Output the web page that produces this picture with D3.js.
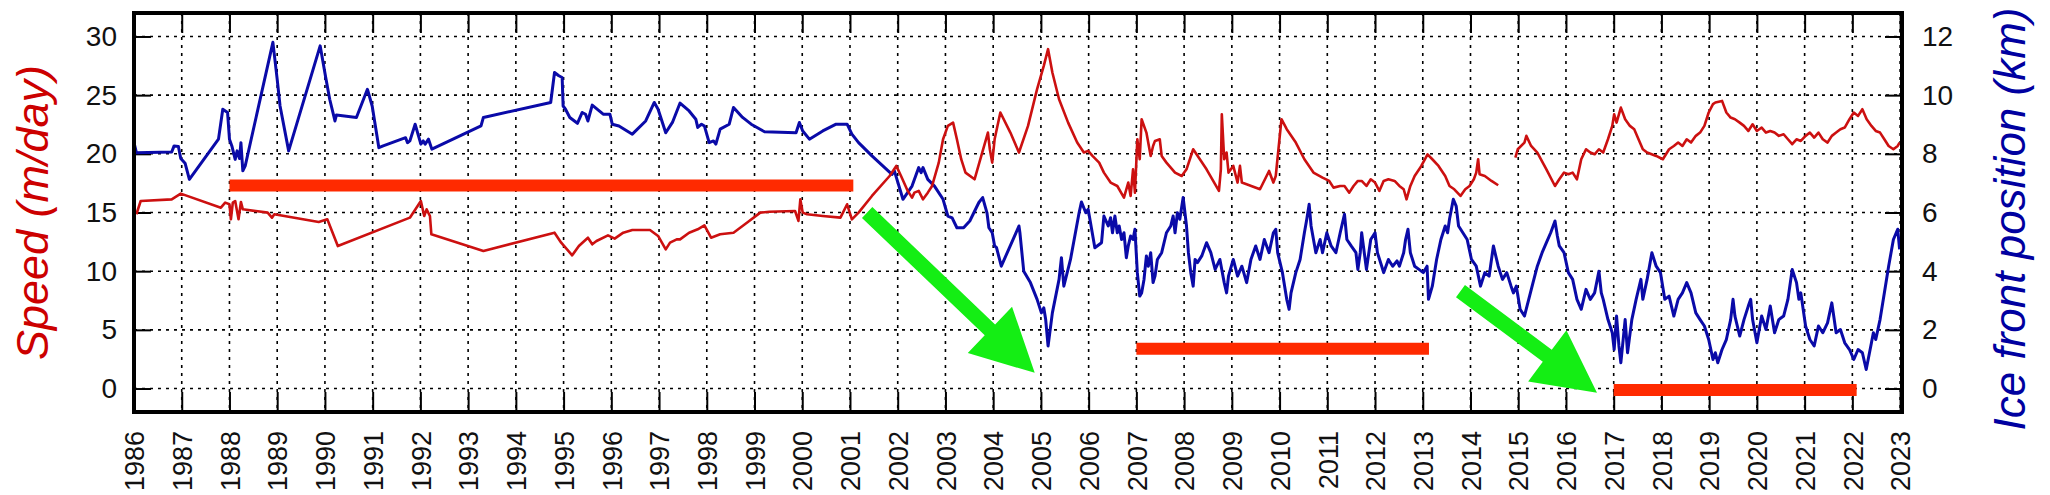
<!DOCTYPE html>
<html>
<head>
<meta charset="utf-8">
<script src="https://cdn.jsdelivr.net/npm/d3@7"></script>
<style>
  body { margin: 0; background: #fff; }
  text { font-family: "Liberation Sans", Arial, Helvetica, sans-serif; }
</style>
</head>
<body>
<div id="chart"></div>
<script>
// ice front position (km), right axis
const iceYear = [
  1986.00, 1986.05, 1986.79, 1986.84, 1986.93, 1986.98, 1987.07, 1987.16, 1987.77, 1987.86,
  1987.96, 1988.00, 1988.05, 1988.12, 1988.16, 1988.21, 1988.24, 1988.28, 1988.33, 1988.91,
  1989.00, 1989.06, 1989.24, 1989.90, 1990.01, 1990.10, 1990.21, 1990.24, 1990.66, 1990.89,
  1990.99, 1991.13, 1991.22, 1991.69, 1991.73, 1991.78, 1991.89, 1991.96, 1992.01, 1992.06,
  1992.10, 1992.17, 1992.24, 1993.27, 1993.32, 1994.73, 1994.81, 1994.90, 1994.97, 1994.99,
  1995.04, 1995.13, 1995.29, 1995.39, 1995.46, 1995.51, 1995.60, 1995.83, 1995.97, 1996.02,
  1996.16, 1996.44, 1996.72, 1996.90, 1996.98, 1997.14, 1997.28, 1997.44, 1997.63, 1997.77,
  1997.81, 1997.89, 1997.95, 1998.05, 1998.14, 1998.19, 1998.28, 1998.47, 1998.56, 1998.75,
  1998.93, 1999.21, 1999.87, 1999.94, 2000.01, 2000.15, 2000.43, 2000.71, 2000.94, 2001.04,
  2001.18, 2001.46, 2001.88, 2001.93, 2002.11, 2002.30, 2002.44, 2002.49, 2002.53, 2002.63,
  2002.77, 2002.95, 2003.05, 2003.14, 2003.24, 2003.38, 2003.51, 2003.70, 2003.78, 2003.87,
  2003.91, 2003.98, 2004.03, 2004.07, 2004.17, 2004.54, 2004.56, 2004.64, 2004.78, 2004.92,
  2005.01, 2005.06, 2005.10, 2005.15, 2005.24, 2005.38, 2005.43, 2005.48, 2005.62, 2005.80,
  2005.85, 2005.94, 2005.99, 2006.13, 2006.27, 2006.32, 2006.41, 2006.46, 2006.50, 2006.55,
  2006.60, 2006.64, 2006.69, 2006.74, 2006.79, 2006.83, 2006.88, 2006.93, 2006.97, 2007.02,
  2007.07, 2007.11, 2007.16, 2007.21, 2007.25, 2007.30, 2007.35, 2007.39, 2007.44, 2007.53,
  2007.63, 2007.72, 2007.77, 2007.81, 2007.86, 2007.91, 2007.98, 2008.05, 2008.09, 2008.14,
  2008.19, 2008.23, 2008.28, 2008.37, 2008.47, 2008.56, 2008.65, 2008.75, 2008.84, 2008.89,
  2008.93, 2009.03, 2009.12, 2009.21, 2009.31, 2009.40, 2009.50, 2009.59, 2009.68, 2009.78,
  2009.87, 2009.92, 2009.96, 2010.06, 2010.15, 2010.20, 2010.24, 2010.34, 2010.43, 2010.52,
  2010.57, 2010.62, 2010.66, 2010.76, 2010.85, 2010.90, 2010.99, 2011.08, 2011.18, 2011.27,
  2011.36, 2011.41, 2011.50, 2011.60, 2011.64, 2011.69, 2011.72, 2011.82, 2011.91, 2012.00,
  2012.05, 2012.14, 2012.18, 2012.28, 2012.37, 2012.46, 2012.51, 2012.60, 2012.64, 2012.69,
  2012.74, 2012.83, 2012.92, 2013.01, 2013.09, 2013.12, 2013.20, 2013.29, 2013.38, 2013.47,
  2013.52, 2013.56, 2013.64, 2013.70, 2013.75, 2013.84, 2013.93, 2014.02, 2014.12, 2014.21,
  2014.30, 2014.39, 2014.48, 2014.58, 2014.67, 2014.76, 2014.85, 2014.90, 2014.96, 2015.04,
  2015.13, 2015.22, 2015.31, 2015.40, 2015.50, 2015.59, 2015.68, 2015.77, 2015.82, 2015.86,
  2015.96, 2016.05, 2016.14, 2016.23, 2016.32, 2016.42, 2016.51, 2016.60, 2016.69, 2016.74,
  2016.78, 2016.88, 2016.97, 2017.01, 2017.06, 2017.11, 2017.15, 2017.24, 2017.29, 2017.38,
  2017.47, 2017.57, 2017.61, 2017.70, 2017.80, 2017.89, 2017.98, 2018.07, 2018.16, 2018.26,
  2018.35, 2018.44, 2018.53, 2018.62, 2018.72, 2018.81, 2018.90, 2018.99, 2019.08, 2019.13,
  2019.18, 2019.27, 2019.36, 2019.45, 2019.50, 2019.54, 2019.64, 2019.73, 2019.82, 2019.87,
  2019.91, 2020.00, 2020.10, 2020.19, 2020.28, 2020.37, 2020.46, 2020.56, 2020.65, 2020.74,
  2020.83, 2020.88, 2020.92, 2021.02, 2021.11, 2021.20, 2021.29, 2021.38, 2021.48, 2021.57,
  2021.66, 2021.75, 2021.84, 2021.94, 2022.03, 2022.12, 2022.21, 2022.29, 2022.40, 2022.44,
  2022.49, 2022.58, 2022.67, 2022.76, 2022.86, 2022.95, 2022.99
]
const iceKm = [
  8.38, 8.04, 8.06, 8.27, 8.25, 7.84, 7.68, 7.13, 8.50, 9.52,
  9.41, 8.50, 8.27, 7.81, 8.10, 7.84, 8.38, 7.42, 7.59, 11.80,
  10.54, 9.63, 8.10, 11.68, 10.66, 9.86, 9.12, 9.32, 9.24, 10.20,
  9.63, 8.21, 8.27, 8.55, 8.38, 8.44, 9.01, 8.61, 8.33, 8.44,
  8.33, 8.50, 8.16, 8.95, 9.24, 9.75, 10.77, 10.66, 10.60, 9.63,
  9.52, 9.24, 9.04, 9.41, 9.35, 9.12, 9.66, 9.35, 9.35, 9.01,
  8.95, 8.67, 9.12, 9.75, 9.52, 8.72, 9.07, 9.73, 9.46, 9.18,
  8.90, 9.01, 8.95, 8.38, 8.44, 8.33, 8.84, 9.01, 9.58, 9.24,
  9.01, 8.75, 8.72, 9.07, 8.78, 8.50, 8.78, 9.01, 9.01, 8.67,
  8.38, 7.93, 7.30, 7.42, 6.45, 6.90, 7.53, 7.36, 7.53, 7.13,
  6.90, 6.45, 5.88, 5.82, 5.48, 5.48, 5.71, 6.34, 6.51, 5.99,
  5.48, 5.31, 4.86, 4.80, 4.17, 5.54, 5.31, 4.00, 3.61, 3.04,
  2.58, 2.75, 2.35, 1.45, 2.58, 3.72, 4.46, 3.49, 4.40, 5.99,
  6.36, 5.99, 6.11, 4.80, 4.97, 5.88, 5.54, 5.82, 5.31, 5.88,
  5.31, 5.54, 5.08, 5.31, 4.46, 4.86, 5.20, 5.08, 5.43, 3.95,
  3.15, 3.26, 3.72, 4.52, 4.17, 4.63, 3.61, 3.83, 4.40, 4.63,
  5.31, 5.54, 5.88, 5.31, 5.99, 5.77, 6.51, 5.54, 4.63, 3.95,
  3.49, 4.40, 4.29, 4.52, 4.97, 4.63, 4.06, 4.40, 3.61, 3.26,
  3.83, 4.40, 3.83, 4.17, 3.61, 4.40, 4.86, 4.40, 5.08, 4.63,
  5.31, 5.43, 4.63, 3.95, 3.04, 2.70, 3.26, 3.95, 4.40, 5.31,
  5.77, 6.28, 5.54, 4.63, 5.08, 4.63, 5.31, 4.86, 4.63, 5.31,
  5.94, 5.08, 4.86, 4.63, 4.06, 4.63, 5.31, 4.06, 5.08, 5.31,
  4.63, 4.17, 3.95, 4.40, 4.17, 4.35, 4.17, 4.63, 5.08, 5.43,
  4.63, 4.17, 4.06, 3.95, 4.17, 3.04, 3.49, 4.40, 5.08, 5.54,
  5.31, 5.77, 6.45, 6.22, 5.54, 5.31, 5.08, 4.40, 4.17, 3.49,
  3.95, 3.83, 4.86, 4.17, 3.72, 3.95, 3.49, 3.26, 3.49, 2.70,
  2.47, 3.04, 3.61, 4.17, 4.63, 4.97, 5.31, 5.71, 5.20, 4.86,
  4.63, 3.95, 3.72, 3.04, 2.70, 3.38, 3.04, 3.26, 4.00, 3.26,
  3.04, 2.35, 1.90, 1.33, 2.47, 1.45, 0.88, 2.35, 1.22, 2.35,
  3.04, 3.72, 3.04, 3.72, 4.63, 4.17, 3.95, 3.04, 3.15, 2.47,
  3.04, 3.26, 3.61, 3.26, 2.58, 2.35, 2.13, 1.67, 0.99, 1.22,
  0.88, 1.33, 1.67, 2.35, 3.04, 2.47, 1.79, 2.35, 2.81, 3.04,
  2.35, 1.56, 2.47, 2.01, 2.81, 1.90, 2.35, 2.47, 3.04, 4.06,
  3.61, 3.04, 3.26, 2.13, 1.67, 1.45, 2.13, 1.90, 2.24, 2.92,
  1.90, 2.01, 1.56, 1.33, 0.99, 1.33, 1.22, 0.65, 1.56, 1.90,
  1.67, 2.35, 3.26, 4.17, 5.08, 5.43, 4.74
]

// ice speed (m/day), left axis; null marks the gap in 2014
const speedYear = [
  1986.05, 1986.14, 1986.79, 1986.98, 1987.82, 1987.91, 1988.00, 1988.03, 1988.07, 1988.12,
  1988.19, 1988.24, 1988.28, 1988.80, 1988.89, 1988.94, 1989.87, 1990.05, 1990.27, 1991.78,
  1992.01, 1992.08, 1992.13, 1992.20, 1992.23, 1993.32, 1994.81, 1994.95, 1995.18, 1995.32,
  1995.51, 1995.60, 1995.69, 1995.93, 1996.07, 1996.25, 1996.44, 1996.81, 1996.98, 1997.14,
  1997.23, 1997.37, 1997.44, 1997.63, 1997.81, 1997.95, 1998.09, 1998.28, 1998.56, 1998.84,
  1999.12, 1999.31, 1999.85, 1999.92, 1999.96, 2000.01, 2000.10, 2000.43, 2000.80, 2000.94,
  2001.04, 2001.18, 2001.46, 2001.83, 2001.97, 2002.07, 2002.21, 2002.30, 2002.35, 2002.44,
  2002.53, 2002.63, 2002.72, 2002.86, 2002.95, 2003.05, 2003.16, 2003.24, 2003.33, 2003.42,
  2003.61, 2003.89, 2003.93, 2003.98, 2004.03, 2004.15, 2004.36, 2004.54, 2004.73, 2004.92,
  2005.06, 2005.15, 2005.24, 2005.38, 2005.57, 2005.76, 2005.90, 2005.99, 2006.08, 2006.22,
  2006.32, 2006.46, 2006.60, 2006.74, 2006.83, 2006.88, 2006.93, 2006.97, 2007.02, 2007.07,
  2007.11, 2007.21, 2007.30, 2007.35, 2007.39, 2007.49, 2007.53, 2007.63, 2007.81, 2007.95,
  2008.05, 2008.19, 2008.47, 2008.73, 2008.77, 2008.79, 2008.84, 2008.89, 2008.93, 2009.03,
  2009.12, 2009.17, 2009.21, 2009.59, 2009.78, 2009.87, 2009.92, 2010.04, 2010.15, 2010.34,
  2010.52, 2010.71, 2010.90, 2011.04, 2011.13, 2011.27, 2011.36, 2011.46, 2011.55, 2011.64,
  2011.72, 2011.82, 2011.91, 2012.00, 2012.09, 2012.18, 2012.28, 2012.41, 2012.51, 2012.60,
  2012.66, 2012.74, 2012.83, 2012.97, 2013.10, 2013.20, 2013.33, 2013.47, 2013.56, 2013.66,
  2013.79, 2013.89, 2013.98, 2014.07, 2014.12, 2014.16, 2014.19, 2014.30, 2014.44, 2014.58,
  2014.75,
  2014.94, 2014.99, 2015.13, 2015.17, 2015.27, 2015.40, 2015.59, 2015.77, 2015.86, 2015.96,
  2016.05, 2016.14, 2016.23, 2016.32, 2016.42, 2016.51, 2016.60, 2016.69, 2016.78, 2016.88,
  2016.97, 2017.01, 2017.06, 2017.15, 2017.24, 2017.34, 2017.43, 2017.52, 2017.61, 2017.70,
  2017.89, 2018.03, 2018.16, 2018.26, 2018.35, 2018.44, 2018.53, 2018.62, 2018.72, 2018.81,
  2018.90, 2018.99, 2019.08, 2019.13, 2019.27, 2019.36, 2019.45, 2019.54, 2019.64, 2019.73,
  2019.82, 2019.91, 2020.00, 2020.10, 2020.19, 2020.28, 2020.37, 2020.46, 2020.56, 2020.65,
  2020.74, 2020.83, 2020.92, 2021.02, 2021.11, 2021.20, 2021.29, 2021.38, 2021.48, 2021.57,
  2021.66, 2021.75, 2021.84, 2021.94, 2022.03, 2022.12, 2022.21, 2022.30, 2022.40, 2022.49,
  2022.58, 2022.67, 2022.76, 2022.86, 2022.95, 2022.99
]
const speedVal = [
  14.85, 15.98, 16.12, 16.61, 15.41, 15.84, 15.70, 14.42, 15.84, 15.98,
  14.42, 15.90, 15.27, 14.99, 14.56, 14.85, 14.19, 14.42, 12.14, 14.56,
  15.98, 14.70, 15.27, 14.70, 13.14, 11.72, 13.28, 12.43, 11.35, 12.14,
  12.85, 12.29, 12.57, 13.05, 12.77, 13.28, 13.51, 13.51, 13.00, 11.86,
  12.43, 12.71, 12.71, 13.28, 13.57, 13.91, 12.85, 13.14, 13.28, 14.13,
  14.99, 15.07, 15.13, 14.28, 16.12, 14.99, 14.85, 14.70, 14.56, 15.70,
  14.42, 14.99, 16.41, 18.11, 18.97, 18.11, 16.84, 16.27, 16.69, 16.84,
  16.12, 16.69, 17.26, 19.25, 21.24, 22.38, 22.66, 21.24, 19.54, 18.40,
  17.83, 21.81, 20.39, 19.25, 21.24, 23.52, 21.81, 20.11, 22.38, 25.51,
  27.50, 28.92, 26.93, 24.65, 22.66, 20.96, 20.11, 20.25, 19.82, 19.25,
  18.40, 17.55, 17.26, 16.27, 17.55, 16.41, 18.68, 16.69, 21.24, 19.54,
  22.95, 21.81, 19.82, 20.67, 21.10, 21.24, 19.82, 19.25, 18.40, 18.11,
  18.68, 20.39, 18.68, 16.84, 18.68, 23.37, 19.54, 20.11, 18.40, 18.97,
  17.55, 18.97, 17.55, 16.98, 18.54, 17.55, 18.11, 22.95, 22.10, 20.96,
  19.54, 18.40, 17.97, 17.69, 17.12, 17.26, 17.26, 16.69, 17.26, 17.69,
  17.69, 17.26, 17.83, 17.55, 16.84, 17.69, 17.83, 17.69, 17.26, 16.98,
  16.12, 17.26, 18.11, 18.97, 19.96, 19.54, 18.97, 18.11, 17.26, 16.98,
  16.41, 16.98, 17.26, 17.83, 18.40, 19.54, 18.26, 18.11, 17.69, 17.32,
  null,
  19.68, 20.39, 20.96, 21.53, 20.67, 20.11, 18.68, 17.26, 17.83, 18.40,
  18.26, 18.40, 17.83, 19.54, 20.39, 20.11, 19.96, 20.39, 20.11, 21.24,
  22.38, 23.37, 22.66, 23.94, 22.95, 22.38, 22.10, 21.24, 20.39, 20.11,
  19.82, 19.54, 20.39, 20.67, 20.96, 20.67, 21.24, 20.96, 21.53, 21.81,
  22.38, 23.52, 24.23, 24.37, 24.51, 23.52, 23.09, 22.95, 22.66, 22.38,
  21.95, 22.52, 21.95, 22.24, 21.81, 21.95, 21.81, 21.53, 21.67, 21.24,
  20.82, 21.24, 21.10, 21.53, 21.81, 21.38, 21.81, 21.24, 20.96, 21.53,
  21.81, 22.10, 22.24, 22.95, 23.52, 23.23, 23.80, 22.95, 22.38, 21.95,
  21.81, 21.24, 20.67, 20.39, 20.67, 20.96
]

// red period bars (speed units) and green arrows (year, speed)
const barStart = [1988.0, 2007.0, 2017.0]
const barEnd = [2001.07, 2013.13, 2022.09]
const barLevel = [17.3, 3.4, -0.12]
const arrowFrom = [[2001.36, 15.0], [2013.79, 8.3]]
const arrowTo = [[2004.87, 1.34], [2016.65, -0.37]]

const yearTicks = d3.range(1986, 2024)
const speedTicks = [0, 5, 10, 15, 20, 25, 30]
const kmTicks = [0, 2, 4, 6, 8, 10, 12]

const width = 2050
const height = 495
const mLeft = 134, mRight = 1902, mTop = 13, mBottom = 412

const svg = d3.select("#chart")
  .append("svg")
    .attr("width", width)
    .attr("height", height)

const x = d3.scaleLinear().domain([1986, 2023.04]).range([mLeft, mRight])
const y = d3.scaleLinear().domain([-2, 32]).range([mBottom, mTop])
const yKm = d3.scaleLinear().domain([-0.8, 12.8]).range([mBottom, mTop])

svg.append("clipPath").attr("id", "plot")
  .append("rect")
    .attr("x", mLeft).attr("y", mTop)
    .attr("width", mRight - mLeft).attr("height", mBottom - mTop)

// dotted grid
const grid = svg.append("g")
  .attr("stroke", "#000")
  .attr("stroke-width", 1.6)
  .attr("stroke-dasharray", "3,5")
grid.selectAll(".vg")
  .data(yearTicks)
  .join("line")
    .attr("x1", d => x(d)).attr("x2", d => x(d))
    .attr("y1", mTop).attr("y2", mBottom)
grid.selectAll(".hg")
  .data(speedTicks)
  .join("line")
    .attr("x1", mLeft).attr("x2", mRight)
    .attr("y1", d => y(d)).attr("y2", d => y(d))

// axes, ticks pointing inward
const styleAxis = g => {
  g.select(".domain").remove()
  g.selectAll(".tick line").attr("stroke", "#000").attr("stroke-width", 2)
  g.selectAll(".tick text").attr("fill", "#111")
}

svg.append("g")
  .attr("transform", `translate(0,${mBottom})`)
  .call(d3.axisBottom(x).tickValues(yearTicks).tickFormat(d3.format("d")).tickSize(-20))
  .call(styleAxis)
  .call(g => g.selectAll(".tick text")
    .attr("transform", "rotate(-90)")
    .attr("x", -19).attr("y", 0).attr("dy", "0.36em")
    .style("text-anchor", "end")
    .style("font-size", "27px"))

svg.append("g")
  .attr("transform", `translate(0,${mTop})`)
  .call(d3.axisTop(x).tickValues(yearTicks).tickFormat("").tickSize(-20))
  .call(styleAxis)

svg.append("g")
  .attr("transform", `translate(${mLeft},0)`)
  .call(d3.axisLeft(y).tickValues(speedTicks).tickSize(-17).tickPadding(17))
  .call(styleAxis)
  .call(g => g.selectAll(".tick text").style("font-size", "28px"))

svg.append("g")
  .attr("transform", `translate(${mRight},0)`)
  .call(d3.axisRight(yKm).tickValues(kmTicks).tickSize(-17).tickPadding(20))
  .call(styleAxis)
  .call(g => g.selectAll(".tick text").style("font-size", "28px"))

// data lines
const plot = svg.append("g").attr("clip-path", "url(#plot)")

const iceData = iceYear.map((t, i) => [t, iceKm[i]])
const speedData = speedYear.map((t, i) => [t, speedVal[i]])

plot.append("path")
  .datum(iceData)
  .attr("fill", "none")
  .attr("stroke", "#0a0aa8")
  .attr("stroke-width", 3)
  .attr("stroke-linejoin", "round")
  .attr("d", d3.line().x(d => x(d[0])).y(d => yKm(d[1])))

plot.append("path")
  .datum(speedData)
  .attr("fill", "none")
  .attr("stroke", "#cc1010")
  .attr("stroke-width", 2.6)
  .attr("stroke-linejoin", "round")
  .attr("d", d3.line().defined(d => d[1] != null).x(d => x(d[0])).y(d => y(d[1])))

// period bars
plot.selectAll(".bar")
  .data(barStart)
  .join("line")
    .attr("x1", d => x(d))
    .attr("x2", (d, i) => x(barEnd[i]))
    .attr("y1", (d, i) => y(barLevel[i]))
    .attr("y2", (d, i) => y(barLevel[i]))
    .attr("stroke", "#ff2a00")
    .attr("stroke-width", 12)

// green arrows
const arrowPath = (a, b) => {
  const x0 = x(a[0]), y0 = y(a[1]), x1 = x(b[0]), y1 = y(b[1])
  const len = Math.hypot(x1 - x0, y1 - y0)
  const ux = (x1 - x0) / len, uy = (y1 - y0) / len
  const nx = -uy, ny = ux
  const shaft = 7.5, head = 32, headLen = 62
  const bx = x1 - ux * headLen, by = y1 - uy * headLen
  const pts = [
    [x0 + nx * shaft, y0 + ny * shaft],
    [bx + nx * shaft, by + ny * shaft],
    [bx + nx * head, by + ny * head],
    [x1, y1],
    [bx - nx * head, by - ny * head],
    [bx - nx * shaft, by - ny * shaft],
    [x0 - nx * shaft, y0 - ny * shaft]
  ]
  return "M" + pts.map(p => p.join(",")).join("L") + "Z"
}

plot.selectAll(".arrow")
  .data(arrowFrom)
  .join("path")
    .attr("d", (d, i) => arrowPath(d, arrowTo[i]))
    .attr("fill", "#14ee14")

// border
svg.append("rect")
  .attr("x", mLeft).attr("y", mTop)
  .attr("width", mRight - mLeft).attr("height", mBottom - mTop)
  .attr("fill", "none")
  .attr("stroke", "#000")
  .attr("stroke-width", 4)

// axis titles
svg.append("text")
  .attr("transform", `translate(32,${(mTop + mBottom) / 2}) rotate(-90)`)
  .attr("dy", "0.35em")
  .style("text-anchor", "middle")
  .style("font-size", "45px")
  .style("font-style", "italic")
  .attr("fill", "#cc0000")
  .text("Speed (m/day)")

svg.append("text")
  .attr("transform", "translate(2010,219) rotate(-90)")
  .attr("dy", "0.35em")
  .style("text-anchor", "middle")
  .style("font-size", "44px")
  .style("font-style", "italic")
  .attr("fill", "#0000a0")
  .text("Ice front position (km)")
</script>
</body>
</html>
